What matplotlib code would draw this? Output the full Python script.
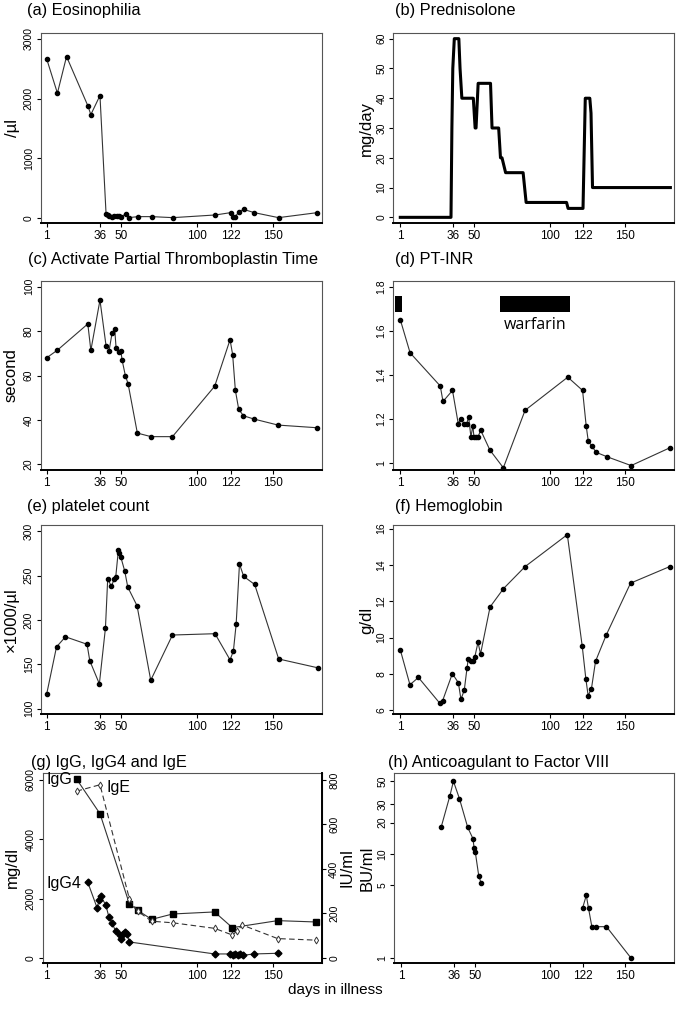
import numpy as np
import matplotlib
matplotlib.use("Agg")
import matplotlib.pyplot as plt
from matplotlib.patches import Rectangle

plt.rcParams['font.family'] = ['Liberation Sans', 'DejaVu Sans']

# ---- data ----
x_ticks = [1, 36, 50, 100, 122, 150]

eos_day = [1, 8, 14, 28, 30, 36, 40, 41, 42, 44, 45.5, 47, 48.5, 50, 53, 55,
           61, 70, 84, 112, 122, 123.5, 125, 127.5, 130.5, 137.5, 153.5, 179]
eos_val = [2660, 2090, 2705, 1880, 1730, 2050, 67, 40, 28, 11, 28, 28, 22, 11,
           67, 0, 17, 17, 0, 45, 84, 17, 17, 100, 139, 84, 0, 84]

pred_day = [1, 34.6, 35.2, 35.8, 36.8, 39.8, 40.6, 41.8, 49.4, 50.6, 51.2,
            52.6, 60.8, 61.8, 66.2, 67.4, 68.4, 70.8, 82.4, 84.4, 111.2, 112.2,
            122.1, 123.6, 126.6, 127.4, 128.4, 180]
pred_dose = [0, 0, 30, 50, 60, 60, 50, 40, 40, 30, 30, 45, 45, 30, 30, 20, 20,
             15, 15, 5, 5, 3, 3, 40, 40, 35, 10, 10]

aptt_day = [1, 8, 28, 30, 36, 40, 42, 44, 45.7, 46.6, 48.8, 49.7, 50.6, 52.7,
            54.5, 60.6, 69.6, 83.7, 111.5, 121.6, 123.3, 125.1, 127.3, 130.4,
            137.4, 153.2, 179]
aptt_val = [68, 71.4, 83.2, 71.3, 93.9, 73.4, 71.2, 79.2, 80.8, 72.5, 70.7,
            71.2, 66.8, 60.0, 56.3, 34.1, 32.5, 32.5, 55.2, 76.1, 69.4, 53.3,
            44.8, 41.9, 40.4, 37.7, 36.5]

inr_day = [1, 7.5, 27.5, 29.3, 35.6, 39.4, 41, 43.3, 45, 46.3, 47.8, 49.1,
           49.8, 51.1, 52.5, 54.3, 60.4, 69.3, 83.7, 112, 121.8, 124.2, 125.6,
           127.8, 130.8, 138, 154, 179.5]
inr_val = [1.65, 1.50, 1.35, 1.28, 1.33, 1.18, 1.20, 1.18, 1.18, 1.21, 1.12,
           1.17, 1.12, 1.12, 1.12, 1.15, 1.06, 0.98, 1.24, 1.39, 1.33, 1.17,
           1.10, 1.08, 1.05, 1.03, 0.99, 1.07]
warfarin_start = [-2.3, 67.2]
warfarin_end = [2.4, 113.5]

plt_day = [1, 7.4, 13.3, 27.5, 29.3, 35.6, 39.6, 41.1, 43.5, 45.3, 46.4, 48.1,
           48.8, 49.7, 52.3, 54.3, 60.4, 69.4, 83.7, 111.7, 121.6, 123.8,
           125.6, 127.8, 130.6, 137.8, 153.6, 179.5]
plt_val = [117, 169.6, 181, 172.6, 154, 128, 190.8, 246.6, 237.7, 245.9,
           248.9, 278.5, 276, 271, 255, 237, 216, 132, 183, 184.5, 155, 165,
           195, 263, 249, 240, 156, 146]

hb_day = [1, 7.4, 13, 27, 29, 35.5, 39.5, 41.2, 43.4, 45.2, 46, 48, 49.4,
          50.3, 52.5, 54.2, 60.5, 69.4, 83.7, 111.7, 121.6, 124, 125.5, 127.7,
          130.4, 137.4, 153.6, 179.5]
hb_val = [9.33, 7.41, 7.81, 6.41, 6.52, 8.02, 7.52, 6.61, 7.11, 8.31, 8.81,
          8.70, 8.70, 8.91, 9.74, 9.11, 11.69, 12.70, 13.91, 15.67, 9.52, 7.72,
          6.81, 7.20, 8.70, 10.13, 13.0, 13.91]

igg_day = [20.6, 36, 55.3, 60.8, 70, 83.8, 111.4, 123.1, 152.9, 178.1]
igg_val = [6025, 4858, 1829, 1604, 1300, 1481, 1550, 1021, 1257, 1212]

ige_day = [20.6, 36, 55.3, 60.8, 70, 83.8, 111.4, 123.1, 126.4, 129.6, 152.9, 178.1]
ige_val = [749, 778, 267, 210, 165, 158, 133, 103, 122, 148, 87, 80]

igg4_day = [27.9, 34.2, 35.3, 36.4, 39.9, 41.9, 43.9, 46.3, 49.2, 49.8, 50.9,
            52.4, 53.8, 55.3, 111.4, 121.5, 123.3, 124.8, 126.6, 128.1, 130.3,
            137.3, 152.9]
igg4_val = [2558, 1672, 1952, 2098, 1773, 1369, 1189, 898, 763, 640, 819, 864,
            819, 539, 135, 135, 112, 135, 112, 135, 90, 135, 157]

# two separate measurement courses (no line between them)
f8_day_1 = [27.6, 33.4, 35.8, 39.8, 45.3, 48.8, 49.5, 50.3, 52.6, 54.3]
f8_val_1 = [18, 36, 50, 34, 18, 14, 11.5, 10.5, 6.2, 5.2]
f8_day_2 = [121.6, 124.1, 125.6, 127.8, 130.5, 137.5, 153.8]
f8_val_2 = [3, 4, 3, 2, 2, 2, 1]

# ---- layout (pixels) ----
W, H = 685, 1011
fig = plt.figure(figsize=(W / 100, H / 100), dpi=100)


def box(x0, y0, x1, y1):
    return fig.add_axes([x0 / W, 1 - y1 / H, (x1 - x0) / W, (y1 - y0) / H])


def style(ax, xlim, ylim, yticks, ylabels=None):
    ax.set_xlim(*xlim)
    ax.set_ylim(*ylim)
    ax.set_xticks(x_ticks)
    ax.set_xticklabels([str(t) for t in x_ticks], fontsize=8.5)
    ax.set_yticks(yticks)
    ax.set_yticklabels(ylabels if ylabels else [str(t) for t in yticks],
                       fontsize=7.5, rotation=90, va='center')
    ax.minorticks_off()
    ax.tick_params(length=3, width=0.8, pad=2, color='black')
    for s in ax.spines.values():
        s.set_color('#555555')
        s.set_linewidth(0.8)
    ax.spines['bottom'].set_color('black')
    ax.spines['bottom'].set_linewidth(1.4)


def title(x, y, s):
    fig.text(x / W, 1 - y / H, s, fontsize=11.8, ha='left', va='center')


def ylab(x, y, s):
    fig.text(x / W, 1 - y / H, s, fontsize=12, rotation=90,
             ha='center', va='center')


def series(ax, d, v):
    ax.plot(d, v, color='#333333', lw=0.8, marker='o', ms=3, mfc='black',
            mec='black')


LX = (-3.0, 182.3)
RX = (-3.5, 182.6)

# (a)
ax = box(40.7, 33, 322.3, 223)
series(ax, eos_day, eos_val)
style(ax, LX, (-90, 3100), [0, 1000, 2000, 3000])
title(27, 10, '(a) Eosinophilia')
ylab(13, 128, '/µl')

# (b)
ax = box(393.5, 33, 674.3, 223)
ax.plot(pred_day, pred_dose, color='black', lw=2.2)
style(ax, RX, (-1.9, 61.9), [0, 10, 20, 30, 40, 50, 60])
title(395, 10, '(b) Prednisolone')
ylab(366, 128, 'mg/day')

# (c)
ax = box(40.7, 281, 322.3, 470)
series(ax, aptt_day, aptt_val)
style(ax, LX, (17.5, 102.5), [20, 40, 60, 80, 100])
title(28, 260, '(c) Activate Partial Thromboplastin Time')
ylab(11, 375, 'second')

# (d)
ax = box(393.5, 281, 674.3, 470)
series(ax, inr_day, inr_val)
for s0, s1 in zip(warfarin_start, warfarin_end):
    ax.add_patch(Rectangle((s0, 1.686), s1 - s0, 0.071, color='black', lw=0))
ax.text(90.5, 1.628, 'warfarin', fontsize=11.5, ha='center', va='center',
        family=['Open Sans', 'DejaVu Sans'])
style(ax, RX, (0.97, 1.825), [1, 1.2, 1.4, 1.6, 1.8],
      ['1', '1.2', '1.4', '1.6', '1.8'])
title(395, 260, '(d) PT-INR')

# (e)
ax = box(40.7, 525, 322.3, 714)
series(ax, plt_day, plt_val)
style(ax, LX, (94, 307), [100, 150, 200, 250, 300])
title(27, 507, '(e) platelet count')
ylab(11, 620, '×1000/µl')

# (f)
ax = box(393.5, 525, 674.3, 714)
series(ax, hb_day, hb_val)
style(ax, RX, (5.8, 16.2), [6, 8, 10, 12, 14, 16])
title(395, 507, '(f) Hemoglobin')
ylab(367, 620, 'g/dl')

# (g)
ax = box(42.7, 773, 322.3, 963)
ax.plot(igg_day, igg_val, color='#333333', lw=0.8, marker='s', ms=4.5,
        mfc='black', mec='black')
ax.plot(igg4_day, igg4_val, color='#333333', lw=0.8, marker='D', ms=3.5,
        mfc='black', mec='black')
style(ax, (-1.7, 182.3), (-170, 6230), [0, 2000, 4000, 6000])
ax2 = ax.twinx()
ax2.plot(ige_day, ige_val, color='#333333', lw=0.8, ls=(0, (5, 3)),
         marker='d', ms=3.5, mfc='white', mec='#333333', mew=0.7)
ax2.set_ylim(-170 / 7.5, 6230 / 7.5)
ax2.set_yticks([0, 200, 400, 600, 800])
ax2.set_yticklabels(['0', '200', '400', '600', '800'], fontsize=7.5,
                    rotation=90, va='center')
ax2.tick_params(length=3, width=0.8, pad=2)
ax2.spines['right'].set_color('black')
ax2.spines['right'].set_linewidth(1.4)
ax2.spines['top'].set_visible(False)
ax2.spines['left'].set_visible(False)
ax2.spines['bottom'].set_visible(False)
ax.text(1, 6000, 'IgG', fontsize=11.5, ha='left', va='center')
ax.text(48, 5750, 'IgE', fontsize=11.5, ha='center', va='center')
ax.text(1, 2520, 'IgG4', fontsize=11.5, ha='left', va='center')
title(31, 762, '(g) IgG, IgG4 and IgE')
ylab(12, 868, 'mg/dl')
ylab(347, 868, 'IU/ml')

# (h)
ax = box(394.3, 773, 674.3, 963)
series(ax, f8_day_1, f8_val_1)
series(ax, f8_day_2, f8_val_2)
ax.set_yscale('log')
style(ax, RX, (0.895, 60), [1, 5, 10, 20, 30, 50])
title(388, 762, '(h) Anticoagulant to Factor VIII')
ylab(367, 868, 'BU/ml')

fig.text(335 / W, 1 - 990 / H, 'days in illness', fontsize=11,
         ha='center', va='center')

fig.savefig('out.png', dpi=100)
